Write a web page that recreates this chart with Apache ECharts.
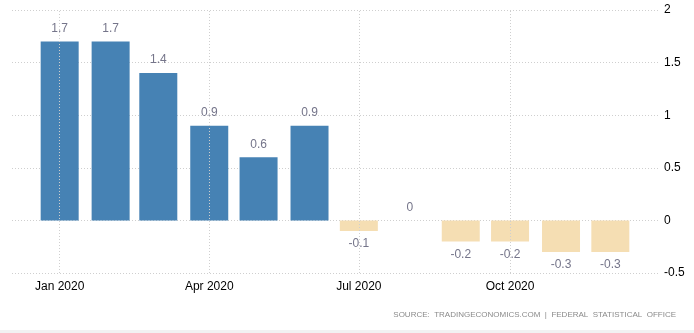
<!DOCTYPE html>
<html>
<head>
<meta charset="utf-8">
<script src="https://cdn.jsdelivr.net/npm/echarts@6/dist/echarts.min.js"></script>
<style>html,body{margin:0;padding:0;background:#fff}#c{width:694px;height:333px}</style>
</head>
<body>
<div id="c"></div>
<script>
var months = ['2020-01-01','2020-02-01','2020-03-01','2020-04-01','2020-05-01','2020-06-01','2020-07-01','2020-08-01','2020-09-01','2020-10-01','2020-11-01','2020-12-01'];
var values = [1.7, 1.7, 1.4, 0.9, 0.6, 0.9, -0.1, 0, -0.2, -0.2, -0.3, -0.3];
var xTickDates = ['2020-01-01','2020-04-01','2020-07-01','2020-10-01'];
var yTicks = [-0.5, 0, 0.5, 1, 1.5, 2];
var sourceText = 'SOURCE:  TRADINGECONOMICS.COM  |  FEDERAL  STATISTICAL  OFFICE';
var monthNames = ['Jan','Feb','Mar','Apr','May','Jun','Jul','Aug','Sep','Oct','Nov','Dec'];

var DAY = 86400000;
var ts = function (s) { return Date.parse(s + 'T00:00:00Z') / DAY; };
var tickVals = xTickDates.map(ts);
var data = months.map(function (m, i) {
  var v = values[i];
  return {
    value: [ts(m), v],
    itemStyle: { color: v >= 0 ? '#4682b4' : '#f5deb3' },
    label: { position: v >= 0 ? 'top' : 'bottom' }
  };
});
var chart = echarts.init(document.getElementById('c'));
chart.setOption({
  animation: false,
  textStyle: { fontFamily: 'Liberation Sans, Arial, sans-serif' },
  grid: { left: 12, right: 36, top: 10, bottom: 60, containLabel: false },
  xAxis: {
    type: 'value',
    min: ts(months[0]) - 29,
    max: ts(months[11]) + 29,
    axisLine: { show: false },
    axisTick: { show: false, customValues: tickVals },
    axisLabel: {
      customValues: tickVals,
      color: '#000', fontSize: 12, margin: 8,
      formatter: function (v) { var d = new Date(v * DAY); return monthNames[d.getUTCMonth()] + ' ' + d.getUTCFullYear(); }
    },
    splitLine: { show: false }
  },
  yAxis: {
    type: 'value', position: 'right',
    min: yTicks[0], max: yTicks[yTicks.length - 1], interval: 0.5,
    axisLine: { show: false }, axisTick: { show: false },
    axisLabel: { color: '#000', fontSize: 12, margin: 6 },
    splitLine: { lineStyle: { color: '#cfcfcf', type: [1, 2], width: 1 } }
  },
  series: [{
    type: 'bar',
    data: data,
    barWidth: 38,
    label: { show: true, color: '#75758a', fontSize: 12, distance: 7, formatter: function (p) { return String(p.value[1]); } },
    markLine: {
      silent: true, symbol: 'none', label: { show: false },
      lineStyle: { color: '#cfcfcf', type: [1, 2], width: 1 },
      data: tickVals.map(function (t) { return { xAxis: t }; })
    },
    z: 2
  }],
  graphic: [{
    type: 'text', right: 18, top: 311,
    style: { text: sourceText, fill: '#8a8a8a', font: '8px Liberation Sans, Arial, sans-serif' }
  }, {
    type: 'rect', left: 0, top: 330, shape: { width: 694, height: 3 }, style: { fill: '#f2f2f2' }
  }]
});
</script>
</body>
</html>
